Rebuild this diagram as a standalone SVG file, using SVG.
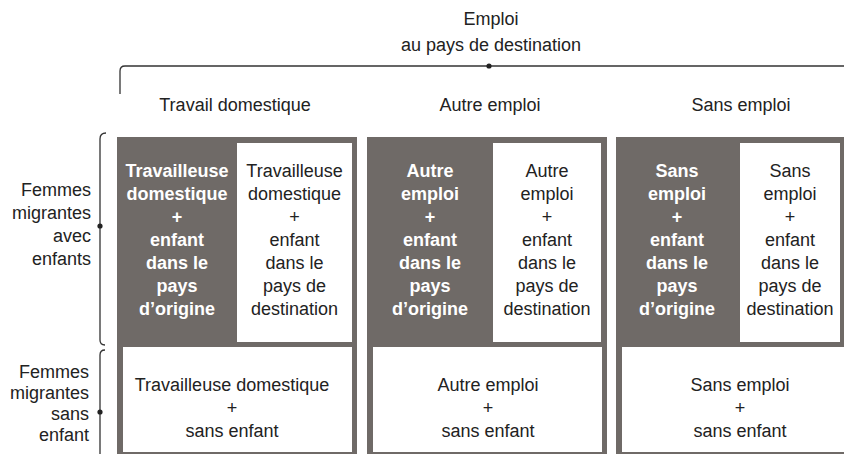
<svg xmlns="http://www.w3.org/2000/svg" width="844" height="454" viewBox="0 0 844 454">
<style>
  text{font-family:"Liberation Sans",Arial,sans-serif;font-size:18px;fill:#222;text-anchor:middle}
  .b{font-weight:bold;fill:#fff}
  .r{text-anchor:end}
  .dark{fill:#6f6a67}
  .box{fill:#fff}
  .br{fill:none;stroke:#333;stroke-width:1.3}
  .dot{fill:#222}
</style>
<rect width="844" height="454" fill="#fff"/>
<g id="connectors">
  <path class="br" d="M120,94 V71 Q120,66 125,66 H846"/>
  <circle class="dot" cx="489" cy="66" r="2.6"/>
  <path class="br" d="M106,133 Q100,133 100,139 V340 Q100,345 105,345"/>
  <circle class="dot" cx="100" cy="226" r="2.6"/>
  <path class="br" d="M105,350 Q100,350 100,355 V460"/>
  <circle class="dot" cx="100" cy="412" r="2.6"/>
</g>
<g id="title">
  <text x="491" y="25">Emploi</text>
  <text x="491" y="51">au pays de destination</text>
</g>
<g id="headers">
  <text x="235" y="111">Travail domestique</text>
  <text x="490" y="111">Autre emploi</text>
  <text x="741" y="111">Sans emploi</text>
</g>
<g id="row-labels">
  <text class="r" x="91" y="196">Femmes</text>
  <text class="r" x="91" y="219">migrantes</text>
  <text class="r" x="91" y="242">avec</text>
  <text class="r" x="91" y="265">enfants</text>
  <text class="r" x="89" y="378">Femmes</text>
  <text class="r" x="89" y="399">migrantes</text>
  <text class="r" x="89" y="420">sans</text>
  <text class="r" x="89" y="441">enfant</text>
</g>
<g id="group-travail">
  <rect class="dark" x="117" y="137" width="240" height="320"/>
  <rect class="box" x="237" y="143" width="115" height="199"/>
  <rect class="box" x="123" y="347" width="229" height="105"/>
  <g id="td-origine">
    <text class="b" x="177" y="177">Travailleuse</text>
    <text class="b" x="177" y="200">domestique</text>
    <text class="b" x="177" y="223">+</text>
    <text class="b" x="177" y="246">enfant</text>
    <text class="b" x="177" y="269">dans le</text>
    <text class="b" x="177" y="292">pays</text>
    <text class="b" x="177" y="315">d’origine</text>
  </g>
  <g id="td-destination">
    <text x="294.5" y="177">Travailleuse</text>
    <text x="294.5" y="200">domestique</text>
    <text x="294.5" y="223">+</text>
    <text x="294.5" y="246">enfant</text>
    <text x="294.5" y="269">dans le</text>
    <text x="294.5" y="292">pays de</text>
    <text x="294.5" y="315">destination</text>
  </g>
  <g id="td-sans">
    <text x="232" y="391">Travailleuse domestique</text>
    <text x="232" y="414">+</text>
    <text x="232" y="437">sans enfant</text>
  </g>
</g>
<g id="group-autre">
  <rect class="dark" x="367" y="137" width="240" height="320"/>
  <rect class="box" x="493" y="143" width="108" height="199"/>
  <rect class="box" x="373" y="347" width="229" height="105"/>
  <g id="ae-origine">
    <text class="b" x="430" y="177">Autre</text>
    <text class="b" x="430" y="200">emploi</text>
    <text class="b" x="430" y="223">+</text>
    <text class="b" x="430" y="246">enfant</text>
    <text class="b" x="430" y="269">dans le</text>
    <text class="b" x="430" y="292">pays</text>
    <text class="b" x="430" y="315">d’origine</text>
  </g>
  <g id="ae-destination">
    <text x="547" y="177">Autre</text>
    <text x="547" y="200">emploi</text>
    <text x="547" y="223">+</text>
    <text x="547" y="246">enfant</text>
    <text x="547" y="269">dans le</text>
    <text x="547" y="292">pays de</text>
    <text x="547" y="315">destination</text>
  </g>
  <g id="ae-sans">
    <text x="488" y="391">Autre emploi</text>
    <text x="488" y="414">+</text>
    <text x="488" y="437">sans enfant</text>
  </g>
</g>
<g id="group-sans">
  <rect class="dark" x="616" y="137" width="240" height="320"/>
  <rect class="box" x="740" y="143" width="100" height="199"/>
  <rect class="box" x="622" y="347" width="236" height="105"/>
  <g id="se-origine">
    <text class="b" x="677" y="177">Sans</text>
    <text class="b" x="677" y="200">emploi</text>
    <text class="b" x="677" y="223">+</text>
    <text class="b" x="677" y="246">enfant</text>
    <text class="b" x="677" y="269">dans le</text>
    <text class="b" x="677" y="292">pays</text>
    <text class="b" x="677" y="315">d’origine</text>
  </g>
  <g id="se-destination">
    <text x="790" y="177">Sans</text>
    <text x="790" y="200">emploi</text>
    <text x="790" y="223">+</text>
    <text x="790" y="246">enfant</text>
    <text x="790" y="269">dans le</text>
    <text x="790" y="292">pays de</text>
    <text x="790" y="315">destination</text>
  </g>
  <g id="se-sans">
    <text x="740" y="391">Sans emploi</text>
    <text x="740" y="414">+</text>
    <text x="740" y="437">sans enfant</text>
  </g>
</g>
</svg>
